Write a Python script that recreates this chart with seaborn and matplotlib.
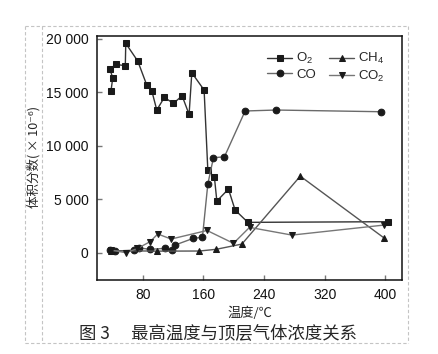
import numpy as np
import pandas as pd
import matplotlib
matplotlib.use("Agg")
import matplotlib.pyplot as plt
from matplotlib.lines import Line2D
import seaborn as sns

# --- données ---
o2_t = [38.1, 40.4, 36.8, 44.4, 57.0, 57.6, 73.4, 85.3, 91.9, 98.5, 108.5, 120.4,
        131.9, 141.1, 144.7, 160.9, 165.8, 174.5, 177.7, 193.0, 201.8, 218.6, 404.0]
o2_v = [15110, 16330, 17170, 17610, 17480, 19570, 17920, 15670, 15140, 13340, 14520, 13960,
        14670, 12930, 16820, 15210, 7730, 7050, 4830, 5950, 3990, 2840, 2900]

co_t = [36.5, 43.5, 69.0, 75.0, 89.6, 109.4, 119.0, 122.6, 146.8, 158.7,
        165.8, 173.2, 187.7, 215.0, 255.9, 394.6]
co_v = [300, 150, 250, 450, 320, 410, 250, 720, 1350, 1440,
        6420, 8880, 8970, 13250, 13340, 13180]

ch4_t = [38.0, 98.5, 154.7, 176.8, 210.7, 287.7, 397.8]
ch4_v = [200, 150, 160, 320, 810, 7160, 1400]

co2_t = [38.0, 58.0, 73.0, 89.6, 99.8, 117.4, 164.8, 199.6, 220.8, 276.7, 398.5]
co2_v = [250, 0, 400, 1030, 1750, 1280, 2080, 880, 2370, 1650, 2590]

series = ["O$_2$", "CO", "CH$_4$", "CO$_2$"]
y_ticks = [0, 5000, 10000, 15000, 20000]
x_ticks = [80, 160, 240, 320, 400]

df = pd.concat([
    pd.DataFrame({"t": o2_t, "v": o2_v, "gaz": series[0]}),
    pd.DataFrame({"t": co_t, "v": co_v, "gaz": series[1]}),
    pd.DataFrame({"t": ch4_t, "v": ch4_v, "gaz": series[2]}),
    pd.DataFrame({"t": co2_t, "v": co2_v, "gaz": series[3]}),
])

sns.set_style("ticks")
plt.rcParams["font.family"] = ["Liberation Sans", "Noto Sans CJK SC", "DejaVu Sans"]
plt.rcParams["mathtext.fontset"] = "custom"
plt.rcParams["mathtext.rm"] = "Liberation Sans"
plt.rcParams["mathtext.it"] = "Liberation Sans:italic"

fig = plt.figure(figsize=(4.39, 3.54), dpi=100)
ax = fig.add_axes([0.221, 0.209, 0.695, 0.689])

styles = {
    series[0]: dict(marker="s", color="#333333", markersize=4.4),
    series[1]: dict(marker="o", color="#6a6a6a", markersize=4.8),
    series[2]: dict(marker="^", color="#555555", markersize=4.8),
    series[3]: dict(marker="v", color="#777777", markersize=4.8),
}
for g in series:
    sub = df[df["gaz"] == g]
    st = styles[g]
    sns.lineplot(data=sub, x="t", y="v", sort=False, estimator=None, ax=ax,
                 label=g, color=st["color"], marker=st["marker"],
                 markersize=st["markersize"], markerfacecolor="#1a1a1a",
                 markeredgecolor="#1a1a1a", linewidth=1.0)

ax.set_xlim(19.7, 422)
ax.set_ylim(-2550, 20250)
ax.set_xticks(x_ticks)
ax.set_yticks(y_ticks)
ax.set_yticklabels([f"{v:,}".replace(",", " ") for v in y_ticks])
ax.tick_params(direction="in", length=3.5, width=1.0, color="#777777",
               labelsize=10, labelcolor="#111111", pad=6)
for s in ax.spines.values():
    s.set_visible(True)
    s.set_linewidth(1.1)
    s.set_color("#111111")
ax.set_xlabel("")
ax.set_ylabel("")

ax.legend(ncol=2, loc="upper right", bbox_to_anchor=(0.97, 0.97), frameon=False,
          fontsize=9.5, handlelength=1.9, handletextpad=0.3, columnspacing=1.0,
          labelspacing=0.15, borderaxespad=0.2)

fig.text(0.077, 0.556, "体积分数( × 10⁻⁶)", rotation=90, ha="center", va="center",
         fontsize=9, family=["Noto Sans CJK SC", "DejaVu Sans"])
fig.text(0.569, 0.116, "温度/℃", ha="center", va="center", fontsize=9.5,
         family=["Noto Sans CJK SC", "DejaVu Sans"])
fig.text(0.497, 0.059, "图 3　 最高温度与顶层气体浓度关系", ha="center", va="center",
         fontsize=12.5, family=["Noto Sans CJK SC", "DejaVu Sans"])

# cadre pointillé de la page
W, H = 439, 354
def fx(px): return px / W
def fy(py): return 1 - py / H
cadre = dict(color="#c4c4c4", linewidth=0.8, linestyle=(0, (3, 2)))
for (x0, y0, x1, y1) in [(25, 26, 408, 26), (25, 343, 408, 343), (25, 26, 25, 343),
                         (408, 26, 408, 343), (42, 26, 42, 343)]:
    fig.add_artist(Line2D([fx(x0), fx(x1)], [fy(y0), fy(y1)], **cadre))

fig.savefig("out.png", dpi=100)
